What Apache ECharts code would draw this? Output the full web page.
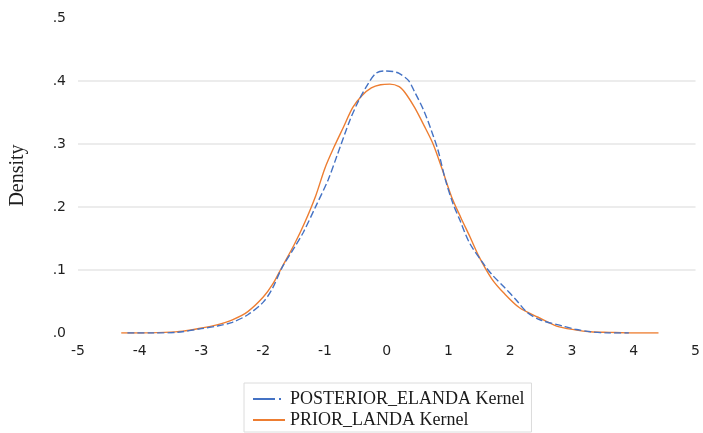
<!DOCTYPE html>
<html>
<head>
<meta charset="utf-8">
<script src="https://cdn.jsdelivr.net/npm/echarts@6/dist/echarts.min.js"></script>
<style>
  html, body { margin: 0; padding: 0; background: #fff; }
  #chart { width: 703px; height: 433px; }
</style>
</head>
<body>
<div id="chart"></div>
<script>
// ---- Data ----
const seriesNames = ['POSTERIOR_ELANDA Kernel', 'PRIOR_LANDA Kernel'];

const posteriorX = [-4.2, -3.8, -3.4, -3.0, -2.75, -2.5, -2.25, -2.0, -1.85, -1.7, -1.5, -1.35, -1.15, -0.95, -0.8, -0.6, -0.45, -0.3, -0.18, -0.05, 0.1, 0.2, 0.35, 0.45, 0.6, 0.72, 0.83, 0.95, 1.07, 1.18, 1.34, 1.58, 1.71, 1.9, 2.1, 2.27, 2.48, 2.85, 3.05, 3.3, 3.6, 3.92];
const posteriorY = [0.000, 0.000, 0.001, 0.007, 0.011, 0.017, 0.029, 0.049, 0.071, 0.103, 0.135, 0.160, 0.201, 0.243, 0.283, 0.337, 0.370, 0.396, 0.412, 0.416, 0.415, 0.412, 0.401, 0.383, 0.353, 0.322, 0.290, 0.243, 0.206, 0.180, 0.143, 0.108, 0.092, 0.073, 0.052, 0.033, 0.021, 0.011, 0.006, 0.002, 0.000, 0.000];

const priorX = [-4.3, -4.0, -3.6, -3.3, -3.0, -2.75, -2.5, -2.25, -2.0, -1.85, -1.7, -1.5, -1.33, -1.15, -1.0, -0.85, -0.7, -0.55, -0.4, -0.25, -0.1, 0.05, 0.2, 0.3, 0.45, 0.6, 0.75, 0.9, 1.05, 1.2, 1.35, 1.5, 1.7, 1.9, 2.15, 2.45, 2.75, 3.05, 3.3, 3.6, 4.0, 4.4];
const priorY = [0.000, 0.000, 0.001, 0.003, 0.008, 0.013, 0.021, 0.034, 0.057, 0.077, 0.104, 0.140, 0.175, 0.218, 0.262, 0.296, 0.327, 0.358, 0.377, 0.389, 0.394, 0.395, 0.391, 0.381, 0.358, 0.330, 0.300, 0.259, 0.216, 0.183, 0.152, 0.120, 0.086, 0.063, 0.040, 0.025, 0.011, 0.005, 0.002, 0.001, 0.000, 0.000];

const yTickLabels = ['.0', '.1', '.2', '.3', '.4', '.5'];
const xTickLabels = ['-5', '-4', '-3', '-2', '-1', '0', '1', '2', '3', '4', '5'];

// ---- Chart ----
const zip = (xs, ys) => xs.map((x, i) => [x, ys[i]]);
const chart = echarts.init(document.getElementById('chart'), null, { renderer: 'canvas' });

const tickFont = { fontFamily: 'DejaVu Sans', fontSize: 14, color: '#1f1f1f' };

chart.setOption({
  animation: false,
  backgroundColor: '#ffffff',
  grid: { left: 75, right: 3, top: 18, bottom: 100, containLabel: false },
  xAxis: {
    type: 'value', min: -5, max: 5, interval: 1,
    axisLine: { show: false }, axisTick: { show: false },
    splitLine: { show: false },
    axisLabel: Object.assign({ margin: 11, formatter: (v) => xTickLabels[Math.round(v) + 5] }, tickFont)
  },
  yAxis: {
    type: 'value', min: 0, max: 0.5, interval: 0.1,
    name: 'Density', nameLocation: 'middle', nameGap: 50,
    nameTextStyle: { fontFamily: 'Liberation Serif', fontSize: 20, color: '#1f1f1f' },
    axisLine: { show: false }, axisTick: { show: false },
    splitLine: { show: true, showMinLine: false, showMaxLine: false, lineStyle: { color: '#e6e6e6', width: 1.5 } },
    axisLabel: Object.assign({ margin: 12, formatter: (v) => yTickLabels[Math.round(v * 10)] }, tickFont)
  },
  legend: {
    orient: 'vertical', left: 244, top: 383, bottom: 0,
    padding: [7, 7, 3, 8],
    borderColor: '#dcdcdc', borderWidth: 1,
    itemWidth: 32, itemHeight: 14, itemGap: 3,
    itemStyle: { opacity: 0 },
    textStyle: { fontFamily: 'Liberation Serif', fontSize: 18, color: '#1a1a1a' },
    data: [
      { name: seriesNames[0], lineStyle: { type: [22, 4, 2, 4] } },
      { name: seriesNames[1] }
    ]
  },
  series: [
    {
      name: seriesNames[0], type: 'line', symbol: 'none', smooth: 0.3,
      data: zip(posteriorX, posteriorY),
      lineStyle: { color: '#4472C4', width: 1.4, type: [7, 3] },
      itemStyle: { color: '#4472C4' }, z: 3
    },
    {
      name: seriesNames[1], type: 'line', symbol: 'none', smooth: 0.3,
      data: zip(priorX, priorY),
      lineStyle: { color: '#ED7D31', width: 1.4 },
      itemStyle: { color: '#ED7D31' }, z: 2
    }
  ]
});
</script>
</body>
</html>
